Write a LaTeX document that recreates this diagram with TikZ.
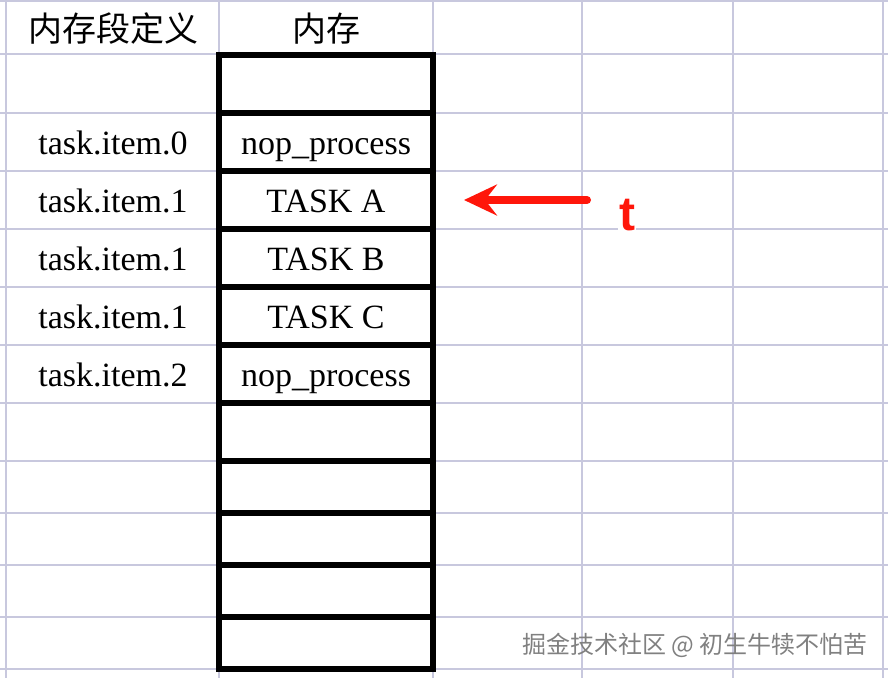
\documentclass[tikz,border=0pt]{standalone}
\usepackage{fontspec}
\newfontfamily\cjkfont{Noto Sans CJK SC}
\newfontfamily\ptrfont{Liberation Sans}
\newfontfamily\cellfont{Liberation Serif}
\usetikzlibrary{arrows.meta,positioning}
\definecolor{sheetgray}{RGB}{200,200,222}
\definecolor{ptrred}{RGB}{255,22,10}

\begin{document}
\begin{tikzpicture}[
  x=1pt, y=-1pt,
  sheetline/.style={draw=sheetgray, line width=2.5pt},
  cell/.style={
    draw,
    line width=6pt,
    minimum width=214pt,
    minimum height=58pt,
    inner sep=0pt,
    outer sep=0pt,
    font=\cellfont\fontsize{34}{40}\selectfont,
    text height=28pt,
    text depth=4pt
  },
  shortcell/.style={cell, minimum height=52pt},
  lbl/.style={
    inner sep=0pt,
    font=\cellfont\fontsize{34}{40}\selectfont,
    text height=28pt,
    text depth=4pt
  },
  head/.style={inner sep=0pt, font=\cjkfont\fontsize{34}{40}\selectfont},
  wmark/.style={inner sep=0pt, text=gray, font=\cjkfont\fontsize{24}{30}\selectfont},
  ptr/.style={draw=ptrred, line width=8pt, line cap=round,
    -{Stealth[length=33pt, width=31pt, inset=12pt]}},
  ptrlabel/.style={fill=white, inner sep=1pt, text=ptrred,
    font=\ptrfont\bfseries\fontsize{48}{54}\selectfont}
]
\useasboundingbox (0,0) rectangle (888,678);

\foreach \gx in {6,219,433,582,733,883}
  \draw[sheetline] (\gx,0) -- (\gx,678);
\foreach \gy in {1,54,113,171,229,287,345,403,461,513,565,617,669}
  \draw[sheetline] (0,\gy) -- (888,\gy);

\node[head] (h1) at (113,29) {内存段定义};
\node[head] (h2) at (326,29) {内存};

\node[cell] (m0) at (326,84) {};
\node[cell, below=0pt of m0] (m1) {nop\_process};
\node[cell, below=0pt of m1] (m2) {TASK A};
\node[cell, below=0pt of m2] (m3) {TASK B};
\node[cell, below=0pt of m3] (m4) {TASK C};
\node[cell, below=0pt of m4] (m5) {nop\_process};
\node[cell, below=0pt of m5] (m6) {};
\node[shortcell, below=0pt of m6] (m7) {};
\node[shortcell, below=0pt of m7] (m8) {};
\node[shortcell, below=0pt of m8] (m9) {};
\node[shortcell, below=0pt of m9] (m10) {};

\node[lbl] (d1) at ([xshift=-213pt]m1.center) {task.item.0};
\node[lbl] (d2) at ([xshift=-213pt]m2.center) {task.item.1};
\node[lbl] (d3) at ([xshift=-213pt]m3.center) {task.item.1};
\node[lbl] (d4) at ([xshift=-213pt]m4.center) {task.item.1};
\node[lbl] (d5) at ([xshift=-213pt]m5.center) {task.item.2};

\coordinate (tip) at ([xshift=31pt]m2.east);
\coordinate (tail) at (587,200);
\draw[ptr] (tail) -- (tip);
\node[ptrlabel, anchor=base] (tl) at (627,230) {t};

\node[wmark] (wm) at (695,645) {掘金技术社区 @ 初生牛犊不怕苦};

\end{tikzpicture}
\end{document}
